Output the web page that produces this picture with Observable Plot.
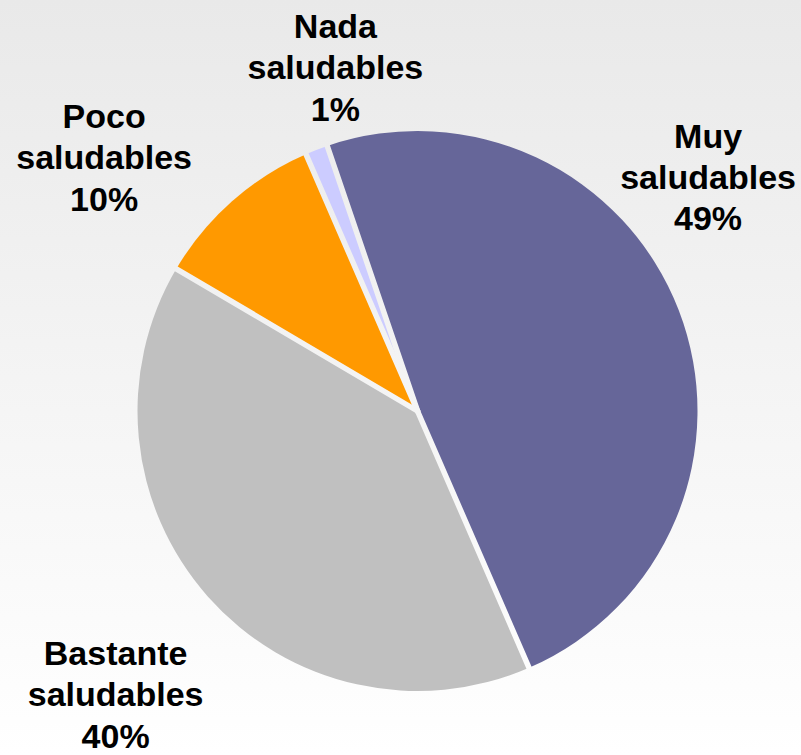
<!DOCTYPE html>
<html><head><meta charset="utf-8">
<script src="https://cdn.jsdelivr.net/npm/d3@7"></script>
<script src="https://cdn.jsdelivr.net/npm/@observablehq/plot@0.6"></script>
<style>
html,body{margin:0;padding:0;}
body{width:801px;height:755px;background:linear-gradient(to bottom,#e9e9e9 0%,#ffffff 100%);overflow:hidden;}
#chart svg{display:block;}
</style></head><body><div id="chart"></div>
<script>
// ---- data ----
const categories = ["Muy saludables", "Bastante saludables", "Poco saludables", "Nada saludables"];
const shares = [48.7, 40.0, 10.0, 1.3];
const pctLabels = ["49%", "40%", "10%", "1%"];
const colors = ["#666699", "#c0c0c0", "#ff9900", "#ccccff"];

// ---- layout ----
const W = 801, H = 755, CX = 417.5, CY = 411, R = 280;
const startDeg = -18.8;
const GAP = 5.5;
// label block centres in pie-radius units (x right, y up)
const labelXY = [[1.036, 0.842], [-1.080, -1.006], [-1.121, 0.912], [-0.295, 1.234]];

const rows = categories.map((c, i) => ({
  cat: c, share: shares[i], pct: pctLabels[i], color: colors[i],
  lx: labelXY[i][0], ly: labelXY[i][1]
}));
const a0 = startDeg * Math.PI / 180;
const arcs = d3.pie().sort(null).value(d => d.share).startAngle(a0).endAngle(a0 + 2 * Math.PI)(rows);

const pieMark = (index, scales, values, dimensions, context) => {
  const cx = scales.x(0), cy = scales.y(0), r = scales.x(1) - scales.x(0);
  const g = d3.create("svg:g").attr("transform", `translate(${cx},${cy})`);
  const defs = g.append("defs");
  const lg = defs.append("linearGradient").attr("id", "bggrad")
    .attr("gradientUnits", "userSpaceOnUse").attr("x1", 0).attr("y1", -cy).attr("x2", 0).attr("y2", dimensions.height - cy);
  lg.append("stop").attr("offset", "0%").attr("stop-color", "#e9e9e9");
  lg.append("stop").attr("offset", "100%").attr("stop-color", "#ffffff");
  const arc = d3.arc().innerRadius(0).outerRadius(r);
  g.append("g").selectAll("path").data(arcs).join("path")
    .attr("d", arc)
    .attr("fill", d => d.data.color);
  // radial separators painted in the background colour
  g.append("g").selectAll("line").data(arcs).join("line")
    .attr("x1", 0).attr("y1", 0)
    .attr("x2", d => (r + 3) * Math.sin(d.startAngle))
    .attr("y2", d => -(r + 3) * Math.cos(d.startAngle))
    .attr("stroke", "url(#bggrad)")
    .attr("stroke-width", GAP)
    .attr("stroke-linecap", "round");
  return g.node();
};

const chart = Plot.plot({
  width: W, height: H,
  margin: 0,
  style: {background: "transparent"},
  x: {domain: [-CX / R, (W - CX) / R], axis: null},
  y: {domain: [(CY - H) / R, CY / R], axis: null},
  marks: [
    pieMark,
    Plot.text(rows, {
      x: "lx", y: "ly",
      text: d => d.cat.replace(" ", "\n") + "\n" + d.pct,
      fontSize: 34, fontWeight: "bold",
      fontFamily: "'Liberation Sans', Arial, sans-serif",
      lineHeight: 1.22, fill: "#000", textAnchor: "middle"
    })
  ]
});
document.getElementById("chart").appendChild(chart);
</script></body></html>
